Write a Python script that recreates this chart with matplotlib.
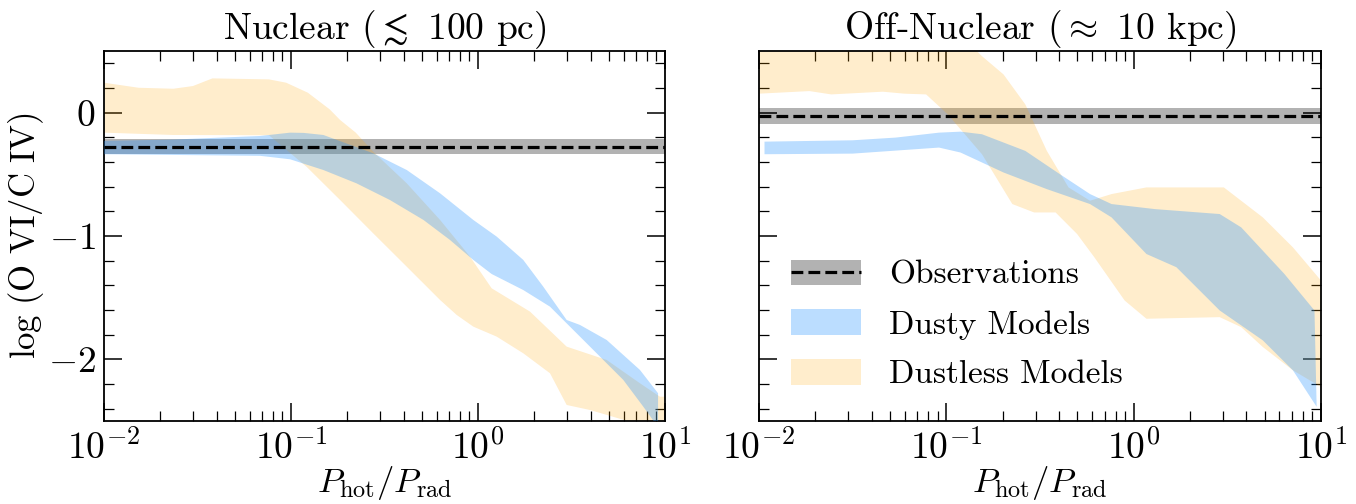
import numpy as np
import matplotlib
matplotlib.use("Agg")
import matplotlib.pyplot as plt
from matplotlib.patches import Patch
from matplotlib.lines import Line2D
from matplotlib.ticker import MultipleLocator

plt.rcParams['font.family'] = 'serif'
plt.rcParams['font.serif'] = ['cmr10', 'DejaVu Serif']
plt.rcParams['mathtext.fontset'] = 'cm'
plt.rcParams['axes.formatter.use_mathtext'] = True
plt.rcParams['axes.unicode_minus'] = True

# ---------------- data ----------------
titles = [r"Nuclear ($\lesssim$ 100 pc)", r"Off-Nuclear ($\approx$ 10 kpc)"]
obs_value = [-0.275, -0.03]
obs_err = [0.06, 0.065]

# Nuclear, dusty models (upper / lower edges)
nuc_dusty_up_x = [0.01, 0.0235, 0.0684, 0.0989, 0.117, 0.149, 0.275, 0.416, 0.627, 0.944, 1.259, 1.746, 2.234, 2.979, 3.508, 4.875, 7.345, 9.18]
nuc_dusty_up_y = [-0.229, -0.218, -0.189, -0.162, -0.164, -0.181, -0.329, -0.465, -0.654, -0.870, -1.005, -1.194, -1.411, -1.681, -1.721, -1.843, -2.086, -2.275]
nuc_dusty_lo_x = [0.01, 0.0684, 0.0989, 0.149, 0.224, 0.338, 0.511, 0.708, 0.944, 1.183, 1.746, 2.427, 2.979, 3.972, 5.984, 7.656, 9.18]
nuc_dusty_lo_y = [-0.337, -0.350, -0.378, -0.465, -0.573, -0.708, -0.870, -1.032, -1.194, -1.308, -1.438, -1.573, -1.708, -1.897, -2.167, -2.384, -2.55]

# Nuclear, dustless models
nuc_dustless_up_x = [0.01, 0.0153, 0.0235, 0.0299, 0.0380, 0.0762, 0.0942, 0.123, 0.161, 0.183, 0.222, 0.275, 0.416, 0.627, 0.906, 1.183, 1.897, 2.979, 4.875, 7.345, 9.40, 10.0]
nuc_dustless_up_y = [0.243, 0.202, 0.194, 0.216, 0.278, 0.270, 0.243, 0.162, 0.027, -0.059, -0.162, -0.316, -0.573, -0.870, -1.167, -1.424, -1.613, -1.897, -2.005, -2.194, -2.303, -2.303]
nuc_dustless_lo_x = [0.01, 0.0235, 0.0762, 0.121, 0.183, 0.275, 0.416, 0.627, 0.769, 0.944, 1.259, 1.746, 2.427, 2.979, 3.972, 5.984, 10.0]
nuc_dustless_lo_y = [-0.162, -0.181, -0.183, -0.438, -0.708, -0.978, -1.249, -1.519, -1.640, -1.735, -1.816, -1.951, -2.113, -2.370, -2.411, -2.49, -2.62]

# Off-nuclear, dusty models
off_dusty_up_x = [0.0107, 0.0316, 0.0537, 0.0914, 0.119, 0.155, 0.264, 0.404, 0.585, 0.762, 1.30, 2.88, 3.75, 6.37, 9.23]
off_dusty_up_y = [-0.235, -0.224, -0.202, -0.162, -0.154, -0.175, -0.310, -0.499, -0.660, -0.741, -0.782, -0.822, -0.930, -1.307, -1.604]
off_dusty_lo_x = [0.0107, 0.0316, 0.0914, 0.119, 0.202, 0.344, 0.585, 0.762, 1.17, 1.69, 2.88, 4.89, 7.08, 9.48]
off_dusty_lo_y = [-0.337, -0.332, -0.283, -0.323, -0.485, -0.620, -0.741, -0.849, -1.146, -1.253, -1.604, -1.846, -2.089, -2.385]

# Off-nuclear, dustless models
off_dustless_up_x = [0.01, 0.125, 0.155, 0.202, 0.264, 0.344, 0.449, 0.585, 0.762, 1.17, 3.03, 4.89, 7.08, 10.0]
off_dustless_up_y = [0.60, 0.60, 0.458, 0.310, 0.067, -0.310, -0.606, -0.714, -0.660, -0.606, -0.606, -0.849, -1.092, -1.361]
off_dustless_lo_x = [0.01, 0.0186, 0.0243, 0.0458, 0.0597, 0.0780, 0.1016, 0.155, 0.225, 0.294, 0.383, 0.499, 0.617, 0.895, 1.17, 2.88, 3.75, 4.89, 7.08, 10.0]
off_dustless_lo_y = [0.154, 0.175, 0.148, 0.170, 0.154, 0.148, -0.013, -0.337, -0.741, -0.809, -0.809, -0.984, -1.173, -1.523, -1.671, -1.658, -1.739, -1.900, -2.089, -2.224]

bands = [
    dict(dusty=(nuc_dusty_up_x, nuc_dusty_up_y, nuc_dusty_lo_x, nuc_dusty_lo_y),
         dustless=(nuc_dustless_up_x, nuc_dustless_up_y, nuc_dustless_lo_x, nuc_dustless_lo_y)),
    dict(dusty=(off_dusty_up_x, off_dusty_up_y, off_dusty_lo_x, off_dusty_lo_y),
         dustless=(off_dustless_up_x, off_dustless_up_y, off_dustless_lo_x, off_dustless_lo_y)),
]

legend_labels = ["Observations", "Dusty Models", "Dustless Models"]

# ---------------- style ----------------
DUSTY = 'dodgerblue'
DUSTY_A = 0.3
DUSTLESS = 'orange'
DUSTLESS_A = 0.2
OBS_A = 0.3

fig = plt.figure(figsize=(13.56, 5.04), dpi=100)
W, H = 1356, 504
ax_l = fig.add_axes([104 / W, 1 - 421 / H, 561 / W, 370 / H])
ax_r = fig.add_axes([759 / W, 1 - 421 / H, 562 / W, 370 / H], sharey=ax_l)
axes = [ax_l, ax_r]


def band_polygon(ax, up_x, up_y, lo_x, lo_y, color, alpha, z):
    px = list(up_x) + list(lo_x)[::-1]
    py = list(up_y) + list(lo_y)[::-1]
    ax.fill(px, py, color=color, alpha=alpha, lw=0, zorder=z)


for i, ax in enumerate(axes):
    ax.axhspan(obs_value[i] - obs_err[i], obs_value[i] + obs_err[i],
               color='k', alpha=OBS_A, lw=0, zorder=1)
    band_polygon(ax, *bands[i]['dustless'], DUSTLESS, DUSTLESS_A, 2)
    band_polygon(ax, *bands[i]['dusty'], DUSTY, DUSTY_A, 3)
    ax.axhline(obs_value[i], color='k', ls='--', lw=2.3, zorder=4)

    ax.set_xscale('log')
    ax.set_xlim(1e-2, 1e1)
    ax.set_ylim(-2.5, 0.5)
    ax.yaxis.set_major_locator(MultipleLocator(1))
    ax.yaxis.set_minor_locator(MultipleLocator(0.2))
    ax.tick_params(which='both', direction='in', top=True, right=True,
                   labelsize=27)
    ax.tick_params(which='major', length=13, width=1.1, pad=6)
    ax.tick_params(which='minor', length=7, width=0.9)
    for s in ax.spines.values():
        s.set_linewidth(1.3)
    ax.set_title(titles[i], fontsize=27, pad=6)
    ax.set_xlabel(r"$P_{\rm hot}/P_{\rm rad}$", fontsize=25)
    ax.xaxis.set_label_coords(0.5, -0.115)

ax_l.set_ylabel(r"$\log\,(\mathrm{O\ VI/C\ IV})$", fontsize=25)
ax_l.yaxis.set_label_coords(-0.103, 0.5)
ax_r.tick_params(labelleft=False)

handles = [
    (Patch(facecolor='k', alpha=OBS_A, lw=0), Line2D([], [], color='k', ls='--', lw=2.3)),
    Patch(facecolor=DUSTY, alpha=DUSTY_A, lw=0),
    Patch(facecolor=DUSTLESS, alpha=DUSTLESS_A, lw=0),
]
ax_r.legend(handles, legend_labels, loc='lower left', frameon=False,
            fontsize=24, handlelength=2.1, handleheight=0.8,
            handletextpad=0.85, labelspacing=0.58, borderaxespad=0.55)

fig.savefig("out.png", dpi=100)
